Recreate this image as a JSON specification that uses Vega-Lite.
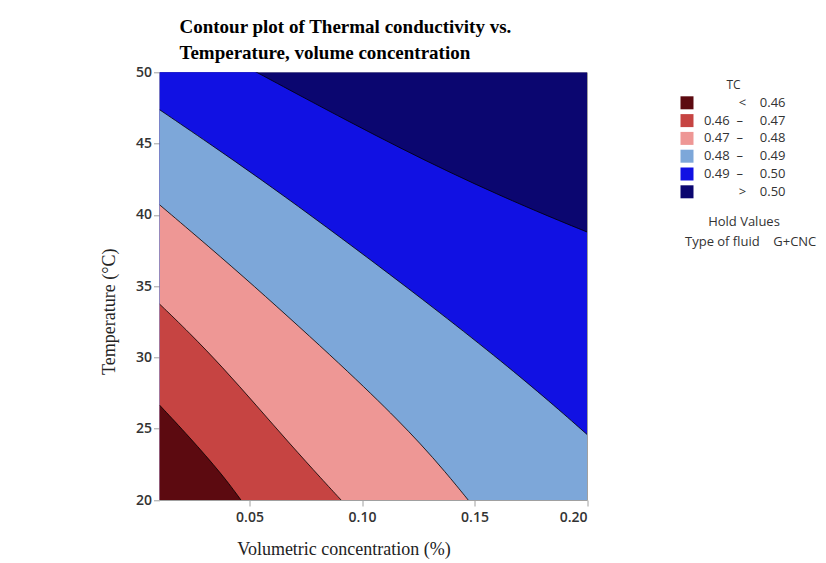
{
  "$schema": "https://vega.github.io/schema/vega-lite/v6.json",
  "width": 427.5,
  "height": 427.7,
  "autosize": "none",
  "padding": {"left": 159.5, "top": 72.3, "right": 239, "bottom": 63},
  "background": "white",
  "config": {
    "view": {"stroke": "#a0a0a0", "strokeWidth": 1},
    "axis": {"grid": false, "domain": false, "tickColor": "#a0a0a0", "tickSize": 6,
      "labelFont": "Open Sans", "labelFontSize": 14, "labelFontWeight": 600, "labelColor": "#333",
      "titleFont": "Liberation Serif", "titleFontSize": 18, "titleFontWeight": "normal", "titleColor": "#222"}
  },
  "title": {
    "text": ["Contour plot of Thermal conductivity vs.", "Temperature, volume concentration"],
    "anchor": "start", "frame": "group", "dx": 20, "offset": 2,
    "font": "Liberation Serif", "fontSize": 19, "fontWeight": "bold", "color": "#000", "lineHeight": 26
  },
  "data": {"values": [
    {"band": "> 0.50", "x": 0.01, "y": 50, "e": 1},
    {"band": "> 0.50", "x": 0.20, "y": 50, "e": 1},
    {"band": "0.49 – 0.50", "x": 0.01, "y": 53.67, "e": 0},
    {"band": "0.49 – 0.50", "x": 0.0532, "y": 50, "e": 0},
    {"band": "0.49 – 0.50", "x": 0.0724, "y": 48.37, "e": 0},
    {"band": "0.49 – 0.50", "x": 0.0946, "y": 46.51, "e": 0},
    {"band": "0.49 – 0.50", "x": 0.1169, "y": 44.69, "e": 0},
    {"band": "0.49 – 0.50", "x": 0.1391, "y": 42.97, "e": 0},
    {"band": "0.49 – 0.50", "x": 0.1613, "y": 41.36, "e": 0},
    {"band": "0.49 – 0.50", "x": 0.1836, "y": 39.85, "e": 0},
    {"band": "0.49 – 0.50", "x": 0.20, "y": 38.8, "e": 0},
    {"band": "0.48 – 0.49", "x": 0.01, "y": 47.38, "e": 0},
    {"band": "0.48 – 0.49", "x": 0.0324, "y": 44.98, "e": 0},
    {"band": "0.48 – 0.49", "x": 0.0547, "y": 42.53, "e": 0},
    {"band": "0.48 – 0.49", "x": 0.0769, "y": 40.0, "e": 0},
    {"band": "0.48 – 0.49", "x": 0.1044, "y": 36.78, "e": 0},
    {"band": "0.48 – 0.49", "x": 0.1347, "y": 33.14, "e": 0},
    {"band": "0.48 – 0.49", "x": 0.1627, "y": 29.64, "e": 0},
    {"band": "0.48 – 0.49", "x": 0.1836, "y": 26.88, "e": 0},
    {"band": "0.48 – 0.49", "x": 0.20, "y": 24.6, "e": 0},
    {"band": "0.47 – 0.48", "x": 0.01, "y": 40.71, "e": 0},
    {"band": "0.47 – 0.48", "x": 0.0324, "y": 37.71, "e": 0},
    {"band": "0.47 – 0.48", "x": 0.052, "y": 35.01, "e": 0},
    {"band": "0.47 – 0.48", "x": 0.0724, "y": 32.11, "e": 0},
    {"band": "0.47 – 0.48", "x": 0.0902, "y": 29.53, "e": 0},
    {"band": "0.47 – 0.48", "x": 0.1044, "y": 27.4, "e": 0},
    {"band": "0.47 – 0.48", "x": 0.1155, "y": 25.67, "e": 0},
    {"band": "0.47 – 0.48", "x": 0.1258, "y": 23.98, "e": 0},
    {"band": "0.47 – 0.48", "x": 0.1369, "y": 22.0, "e": 0},
    {"band": "0.47 – 0.48", "x": 0.1472, "y": 20, "e": 0},
    {"band": "0.46 – 0.47", "x": 0.01, "y": 33.75, "e": 0},
    {"band": "0.46 – 0.47", "x": 0.0232, "y": 31.75, "e": 0},
    {"band": "0.46 – 0.47", "x": 0.0381, "y": 29.3, "e": 0},
    {"band": "0.46 – 0.47", "x": 0.0529, "y": 26.66, "e": 0},
    {"band": "0.46 – 0.47", "x": 0.0677, "y": 23.98, "e": 0},
    {"band": "0.46 – 0.47", "x": 0.0825, "y": 21.4, "e": 0},
    {"band": "0.46 – 0.47", "x": 0.0907, "y": 20, "e": 0},
    {"band": "< 0.46", "x": 0.01, "y": 26.66, "e": 0},
    {"band": "< 0.46", "x": 0.0232, "y": 24.44, "e": 0},
    {"band": "< 0.46", "x": 0.0381, "y": 21.75, "e": 0},
    {"band": "< 0.46", "x": 0.0462, "y": 20, "e": 0}
  ]},
  "layer": [
    {
      "mark": {"type": "area", "interpolate": "basis", "clip": true, "opacity": 1},
      "encoding": {
        "x": {"field": "x", "type": "quantitative",
          "scale": {"domain": [0.01, 0.2], "nice": false, "zero": false},
          "axis": {"values": [0.05, 0.1, 0.15, 0.2], "format": ".2f", "title": "Volumetric concentration (%)",
            "labelPadding": 4, "titleX": 184, "titleY": 54, "titleBaseline": "alphabetic", "titleAnchor": "middle", "titleAlign": "center"}},
        "y": {"field": "y", "type": "quantitative", "stack": null,
          "scale": {"domain": [20, 50], "nice": false, "zero": false},
          "axis": {"values": [20, 25, 30, 35, 40, 45, 50], "title": "Temperature (°C)", "labelPadding": 2,
            "titleX": -41, "titleY": 239, "titleAlign": "center"}},
        "y2": {"datum": 20},
        "color": {"field": "band", "type": "nominal",
          "scale": {"domain": ["< 0.46", "0.46 – 0.47", "0.47 – 0.48", "0.48 – 0.49", "0.49 – 0.50", "> 0.50"],
            "range": ["#5c0a10", "#c64442", "#ee9795", "#7da7d9", "#1111e3", "#0b0670"]},
          "legend": {"title": "TC", "orient": "none", "legendX": 521, "legendY": 8, "padding": 0,
            "titleAnchor": "middle", "titleFont": "Open Sans", "titleFontSize": 12, "titleFontWeight": "normal",
            "titleColor": "#333", "titlePadding": 4,
            "labelFont": "Open Sans", "labelFontSize": 13, "labelColor": "#333", "labelAlign": "right", "labelOffset": 92,
            "symbolType": "square", "symbolSize": 169, "symbolStrokeWidth": 0, "rowPadding": 3.8,
            "labelExpr": "indexof(datum.label,'–')>0 ? replace(datum.label,' – ','\u00a0\u00a0–\u00a0\u00a0\u00a0\u00a0\u00a0') : replace(datum.label,' ','\u00a0\u00a0\u00a0\u00a0')"}}
      }
    },
    {
      "transform": [{"filter": "datum.e != 1 && datum.band != '> 0.50'"}],
      "mark": {"type": "line", "interpolate": "basis", "clip": true, "color": "#000", "strokeWidth": 0.8},
      "encoding": {
        "x": {"field": "x", "type": "quantitative"},
        "y": {"field": "y", "type": "quantitative"},
        "detail": {"field": "band"}
      }
    },
    {
      "data": {"values": [{"hold": "Type of fluid\u00a0\u00a0\u00a0\u00a0G+CNC"}]},
      "mark": {"type": "point", "opacity": 0},
      "encoding": {
        "shape": {"field": "hold", "type": "nominal",
          "legend": {"title": "Hold Values", "orient": "none", "legendX": 512.5, "legendY": 144, "padding": 0,
            "titleAnchor": "middle", "titleFont": "Open Sans", "titleFontSize": 13, "titleFontWeight": "normal",
            "titleColor": "#333", "titlePadding": 6, "labelFont": "Open Sans", "labelFontSize": 13, "labelColor": "#333",
            "symbolSize": 0, "symbolOpacity": 0, "labelOffset": 0}}
      }
    }
  ]
}
